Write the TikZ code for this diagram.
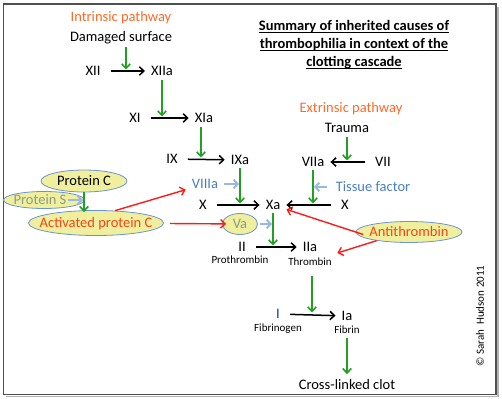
\documentclass[tikz,border=0pt]{standalone}
\usepackage{fontspec}
\setmainfont{Carlito}
\usepackage{xcolor}
\definecolor{cAct}{HTML}{22A022}
\definecolor{cInh}{HTML}{FF1A1A}
\definecolor{cCof}{HTML}{9BB8E0}
\definecolor{cBlue}{HTML}{4A7EC4}
\definecolor{cOrange}{HTML}{FF6A28}
\definecolor{cRedText}{HTML}{F4451A}
\definecolor{cOval}{HTML}{EFEF9E}
\definecolor{cOvalLine}{HTML}{6C95D0}
\definecolor{cGrayText}{HTML}{8D9C86}
\definecolor{cNavy}{HTML}{22399A}
\definecolor{cFrame}{HTML}{505050}
\definecolor{cShadow}{HTML}{B4B4B4}
\usepackage{tikz}
\usetikzlibrary{positioning,arrows.meta,shapes.geometric}
\newcommand\ovaltext[1]{\makebox[0pt]{#1}}
\newcommand\titleline[1]{\underline{\smash{#1}}}
\tikzset{
  node-factor/.style={inner xsep=6pt,inner ysep=3pt,text height=9.3pt,
    text depth=0pt,font=\fontsize{14.5}{17}\selectfont},
  node-small/.style={inner xsep=3pt,inner ysep=2pt,text height=7pt,
    text depth=0pt,font=\fontsize{11}{13}\selectfont},
  node-oval/.style={ellipse,draw=cOvalLine,fill=cOval,line width=0.8pt,
    inner sep=0pt,text height=9.3pt,text depth=0pt,
    font=\fontsize{14.5}{17}\selectfont},
  node-title/.style={align=center,inner sep=0pt,
    font=\bfseries\fontsize{14.5}{18}\selectfont},
  % schwarz: Umwandlung, gruen: Aktivierung, rot: Hemmung, hellblau: Kofaktor
  arrow-step/.style={-{Straight Barb[length=4.5pt,width=8.5pt]},line width=1.5pt,
    draw=black,shorten <=4pt},
  arrow-act/.style={-{Straight Barb[length=4.5pt,width=8.5pt]},line width=1.6pt,
    draw=cAct,shorten >=1.5pt},
  arrow-inh/.style={-{Straight Barb[length=4.5pt,width=8.5pt]},line width=1.4pt,
    draw=cInh},
  arrow-cof/.style={-{Straight Barb[length=4pt,width=8.5pt]},line width=2pt,
    draw=cCof,shorten >=1pt},
}

\begin{document}
\begin{tikzpicture}[x=1pt,y=-1pt]
  \useasboundingbox (0,0) rectangle (502,398);
  \draw[cShadow,line width=1.5pt] (6,396.5) -- (498,396.5) -- (498,7);
  \draw[cFrame,line width=1.3pt] (3.5,4) rectangle (496,394.5);

  \node[node-title,anchor=north] (title) at (354,30.6)
    {\titleline{Summary of inherited causes of}\\
     \titleline{thrombophilia in context of the}\\
     \titleline{clotting cascade}};
  \node[rotate=90,inner sep=0pt,font=\fontsize{11}{13}\selectfont] (copy)
    at (480,316) {© Sarah\ \ Hudson 2011};

  % intrinsischer Weg
  \node[node-factor,text=cOrange] (intr) at (121,17) {Intrinsic pathway};
  \node[node-factor,below=3.7pt of intr] (dam) {Damaged surface};
  \node[node-factor] (xii) at (93,71) {XII};
  \node[node-factor] (xiia) at (162,71) {XIIa};
  \node[node-factor] (xi) at (135,118) {XI};
  \node[node-factor] (xia) at (204,118) {XIa};
  \node[node-factor] (ix) at (172,159) {IX};
  \node[node-factor] (ixa) at (240,160) {IXa};
  \node[node-factor,text=cBlue] (viiia) at (205,184) {VIIIa};
  \node[node-factor] (xl) at (203,205) {X};
  \node[node-factor] (xa) at (273,205) {Xa};

  % extrinsischer Weg
  \node[node-factor,text=cOrange] (ext) at (351,108) {Extrinsic pathway};
  \node[node-factor] (trauma) at (347,128) {Trauma};
  \node[node-factor] (viia) at (313,162) {VIIa};
  \node[node-factor] (vii) at (383,162) {VII};
  \node[node-factor,text=cBlue] (tf) at (373,187) {Tissue factor};
  \node[node-factor] (xr) at (345,205) {X};

  % gemeinsamer Weg
  \node[node-factor] (ii) at (242,247) {II};
  \node[node-small,below=-1pt of ii,xshift=-2pt] (pro) {Prothrombin};
  \node[node-factor] (iia) at (310,247) {IIa};
  \node[node-small,below=1pt of iia] (thr) {Thrombin};
  \node[node-factor,text=cNavy] (fi) at (278,314) {I};
  \node[node-small,below=0pt of fi] (fib) {Fibrinogen};
  \node[node-factor] (ia) at (347,316) {Ia};
  \node[node-small,below=0pt of ia] (fibrin) {Fibrin};
  \node[node-factor] (clot) at (347,385) {Cross-linked clot};

  % Hemmstoffe
  \node[node-oval,minimum width=81pt,minimum height=17pt,text=cGrayText]
    (prots) at (44,200) {\ovaltext{Protein S\hspace*{8pt}}};
  \node[node-oval,minimum width=86pt,minimum height=22pt]
    (protc) at (84,181) {\ovaltext{Protein C}};
  \node[node-oval,minimum width=135pt,minimum height=25pt,text=cRedText]
    (apc) at (96,223) {\ovaltext{Activated protein C}};
  \node[node-oval,minimum width=35pt,minimum height=21pt,text=cGrayText]
    (va) at (240,224) {\ovaltext{Va}};
  \node[node-oval,minimum width=106pt,minimum height=21pt,text=cRedText]
    (at) at (409,232) {\ovaltext{Antithrombin}};

  % Umwandlungen
  \draw[arrow-step] (xii) -- (xiia);
  \draw[arrow-step] (xi) -- (xia);
  \draw[arrow-step] (ix) -- (ixa);
  \draw[arrow-step] (xl) -- (xa);
  \draw[arrow-step] (vii) -- (viia);
  \draw[arrow-step] (xr) -- (xa);
  \draw[arrow-step] (ii) -- (iia);
  \draw[arrow-step] (fi) -- (ia);

  % Aktivierungen
  \coordinate (g-dam) at ([xshift=5pt]dam.south);
  \coordinate (g-xia) at ([xshift=-3pt]xia.south);
  \coordinate (g-thr) at ([xshift=2pt]thr.south);
  \draw[arrow-act,shorten <=3pt] (g-dam) -- (g-dam |- xii);
  \draw[arrow-act,shorten <=1pt] (xiia.south) -- (xiia.south |- xi);
  \draw[arrow-act,shorten <=1pt] (g-xia) -- (g-xia |- ix);
  \draw[arrow-act] (ixa.south) -- (ixa.south |- xl);
  \draw[arrow-act,shorten <=1pt] (trauma.south) -- (trauma.south |- vii);
  \draw[arrow-act] (viia.south) -- (viia.south |- xr);
  \draw[arrow-act] (xa.south) -- (xa.south |- ii);
  \draw[arrow-act,shorten <=9pt] (g-thr) -- (g-thr |- fi);
  \draw[arrow-act,shorten <=3pt,shorten >=3pt] (fibrin) -- (clot);
  \draw[arrow-act,shorten >=-2pt] (protc.south) -- (protc.south |- apc.north);

  % Kofaktoren
  \draw[arrow-cof] (viiia) -- (ixa.south |- viiia);
  \draw[arrow-cof,shorten <=3pt] (tf) -- (viia.south |- tf);
  \draw[arrow-cof] ([xshift=-17pt]prots.east) -- (protc.south |- prots);
  \draw[arrow-cof,shorten <=2pt] (va) -- (xa.south |- va);

  % Hemmung
  \draw[arrow-inh] (apc.33) -- (viiia);
  \draw[arrow-inh,shorten <=6pt,shorten >=-4pt] (apc) -- (va);
  \draw[arrow-inh,shorten <=-8pt] (at.west) -- (xa);
  \draw[arrow-inh] (at.195) -- ([shift={(14,6)}]iia.east);
\end{tikzpicture}
\end{document}
